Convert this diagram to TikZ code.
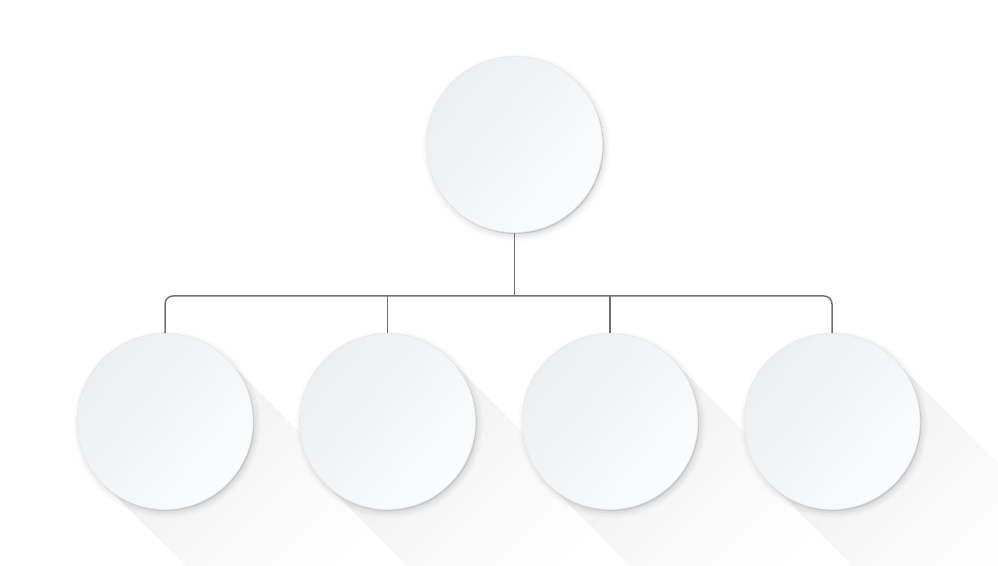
\documentclass[tikz,border=0pt]{standalone}
\usetikzlibrary{shadows,shadows.blur,backgrounds}
\definecolor{linkgray}{HTML}{707070}
\definecolor{discedge}{HTML}{C4C6C8}
\definecolor{disclight}{HTML}{FBFCFD}
\definecolor{discdark}{HTML}{ECEEF0}
\tikzset{
	disc/.style={circle, inner sep=0pt, minimum size=176pt,
		blur shadow={shadow xshift=2pt, shadow yshift=-3pt, shadow blur radius=6pt, shadow opacity=18},
		general shadow={fill=discedge, shadow xshift=1.2pt, shadow yshift=-1.4pt},
		draw=discedge!40, line width=0.6pt,
		left color=discdark, right color=disclight, shading angle=50},
	link/.style={draw=linkgray, line width=1.5pt},
}
\begin{document}
\begin{tikzpicture}[x=1pt,y=1pt]
	\def\R{88}
	\def\L{220}
	\useasboundingbox (0,0) rectangle (998,565);
	\node[disc] (top) at (514.5,420.5) {};
	\node[disc] (a) at (165,143.5) {};
	\node[disc] (b) at (387.5,143.5) {};
	\node[disc] (c) at (610,143.5) {};
	\node[disc] (d) at (832,143.5) {};
	\coordinate (bus) at (514.5,269);
	% long shadows
	\begin{scope}[on background layer]
		\foreach \n in {a,b,c,d}
			\foreach \k in {1,...,14}
				\fill[black, opacity=0.004, shift={(\n.center)}, rotate=-45] (0,-\R) rectangle (\L*\k/14,\R);
	\end{scope}
	\draw[link] (top.south) -- (bus);
	\draw[link, rounded corners=8pt] (a.north) -- (a.north |- bus) -- (d.north |- bus) -- (d.north);
	\draw[link] (b.north) -- (b.north |- bus);
	\draw[link] (c.north) -- (c.north |- bus);
\end{tikzpicture}
\end{document}
